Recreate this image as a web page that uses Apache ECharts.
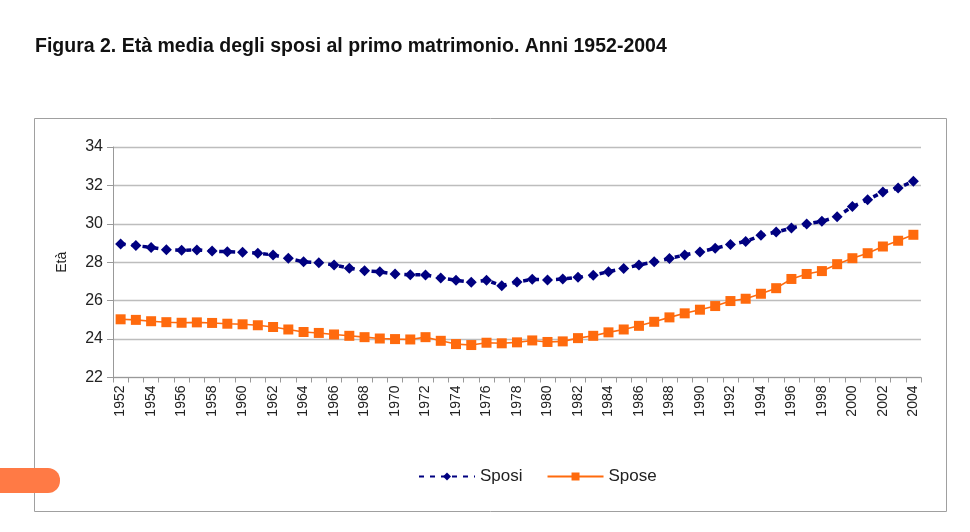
<!DOCTYPE html>
<html>
<head>
<meta charset="utf-8">
<script src="https://cdn.jsdelivr.net/npm/echarts@6/dist/echarts.min.js"></script>
<style>
html,body{margin:0;padding:0;background:#fff;}
#main{width:970px;height:532px;}
</style>
</head>
<body>
<div id="main"></div>
<script>
var titleText = "Figura 2. Età media degli sposi al primo matrimonio. Anni 1952-2004";
var yAxisName = "Età";
var years = ["1952","1953","1954","1955","1956","1957","1958","1959","1960","1961","1962","1963","1964","1965","1966","1967","1968","1969","1970","1971","1972","1973","1974","1975","1976","1977","1978","1979","1980","1981","1982","1983","1984","1985","1986","1987","1988","1989","1990","1991","1992","1993","1994","1995","1996","1997","1998","1999","2000","2001","2002","2003","2004"];
var sposi = [28.95,28.87,28.77,28.65,28.62,28.64,28.58,28.55,28.52,28.47,28.38,28.21,28.02,27.97,27.86,27.69,27.56,27.5,27.39,27.35,27.34,27.18,27.06,26.96,27.06,26.78,26.97,27.11,27.08,27.13,27.22,27.32,27.51,27.67,27.86,28.02,28.19,28.38,28.54,28.73,28.92,29.08,29.4,29.57,29.78,29.99,30.13,30.37,30.9,31.25,31.66,31.87,32.22];
var spose = [25.03,25.0,24.93,24.88,24.85,24.87,24.84,24.8,24.77,24.72,24.63,24.5,24.37,24.32,24.24,24.17,24.1,24.03,24.0,23.98,24.1,23.91,23.74,23.69,23.81,23.78,23.83,23.93,23.85,23.88,24.05,24.17,24.35,24.5,24.69,24.9,25.13,25.34,25.53,25.72,25.98,26.1,26.36,26.65,27.13,27.39,27.54,27.9,28.21,28.47,28.82,29.12,29.43];
var seriesNames = ["Sposi","Spose"];

var FONT = "'Liberation Sans Narrow','Arial Narrow','Liberation Sans',Arial,sans-serif";
var chart = echarts.init(document.getElementById('main'), null, {renderer:'canvas'});
chart.setOption({
  animation:false,
  backgroundColor:'#fff',
  textStyle:{fontFamily:FONT},
  title:{
    text:titleText, left:30, top:32,
    textStyle:{fontFamily:FONT, fontSize:19.5, fontWeight:'bold', color:'#111'}
  },
  graphic:[
    {type:'rect', shape:{x:34.5,y:118.5,width:912,height:393}, style:{fill:'none',stroke:'#a0a0a0',lineWidth:1}, z:-1},
    {type:'rect', shape:{x:-10,y:468,width:70,height:25,r:[0,12,12,0]}, style:{fill:'#ff7a45'}}
  ],
  legend:{
    left:413, top:463, itemWidth:56, itemHeight:10, itemGap:24,
    textStyle:{fontFamily:FONT, fontSize:17, color:'#222'},
    data:seriesNames
  },
  grid:{left:113, right:49, top:147, bottom:154.5, containLabel:false},
  xAxis:{
    type:'category', data:years, boundaryGap:true,
    axisLine:{lineStyle:{color:'#999'}},
    axisTick:{show:true, interval:0, length:5, lineStyle:{color:'#999'}},
    axisLabel:{interval:1, rotate:90, fontFamily:FONT, fontSize:14, color:'#222', margin:8}
  },
  yAxis:{
    type:'value', min:22, max:34, interval:2,
    name:yAxisName, nameLocation:'middle', nameGap:44, nameRotate:90,
    nameTextStyle:{fontFamily:FONT, fontSize:14, color:'#222'},
    axisLine:{show:true, lineStyle:{color:'#999'}},
    axisTick:{show:true, inside:false, length:6, lineStyle:{color:'#999'}},
    axisLabel:{fontFamily:FONT, fontSize:16, color:'#222', margin:10},
    splitLine:{lineStyle:{color:'#bdbdbd', width:1.3}}
  },
  series:[
    {name:seriesNames[0], type:'line', data:sposi, symbol:'diamond', symbolSize:11, showAllSymbol:true,
     itemStyle:{color:'#000080'}, lineStyle:{color:'#000080', width:3.5, type:[5,6]}, z:3},
    {name:seriesNames[1], type:'line', data:spose, symbol:'rect', symbolSize:10, showAllSymbol:true,
     itemStyle:{color:'#ff6a0d'}, lineStyle:{color:'#ff6a0d', width:1.6}, z:2}
  ]
});
</script>
</body>
</html>
